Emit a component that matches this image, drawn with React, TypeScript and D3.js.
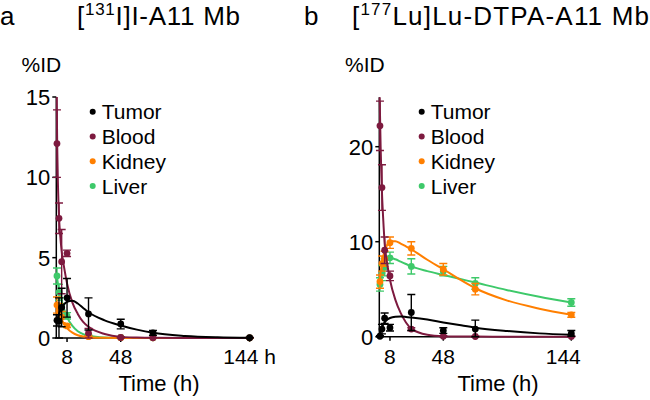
import React from "react";
import * as d3 from "d3";

// ---------- data ----------
const times = [0.5, 2, 4, 8, 24, 48, 72, 144];
const fitTimes = [0, 0.5, 1, 2, 3, 4, 6, 8, 12, 16, 20, 24, 36, 48, 60, 72, 96, 120, 144];
const seriesNames = ["Tumor", "Blood", "Kidney", "Liver"];
const seriesColors = ["#000000", "#7d1a3f", "#ff7f00", "#3ec96a"];

// Panel a: [131I]I-A11 Mb
const aTumor = [1.1, 1.05, 1.9, 2.5, 1.5, 0.87, 0.32, 0.02];
const aTumorSd = [0.35, 1.45, 1.2, 1.2, 1.0, 0.3, 0.15, 0.02];
const aBlood = [12.1, 7.45, 4.75, 5.27, 0.3, 0.03, 0.01, 0.01];
const aBloodSd = [2.1, 0.95, 2.0, 0.2, 0.3, 0.05, 0.03, 0.02];
const aKidney = [2.05, 1.7, 1.3, 0.75, 0.08, 0.02, 0.01, 0.01];
const aKidneySd = [0.5, 0.45, 0.35, 0.1, 0.05, 0.01, 0.01, 0.01];
const aLiver = [3.86, 2.84, 2.0, 1.38, 0.12, 0.03, 0.01, 0.01];
const aLiverSd = [0.5, 0.5, 0.5, 0.2, 0.05, 0.02, 0.01, 0.01];

const aTumorFit = [0.9, 1.05, 1.2, 1.5, 1.72, 1.9, 2.12, 2.25, 2.32, 2.15, 1.87, 1.6, 1.1, 0.78, 0.52, 0.32, 0.13, 0.05, 0.02];
const aBloodFit = [22, 13.5, 10.5, 7.6, 6.3, 5.4, 4.3, 3.4, 2.2, 1.5, 1.0, 0.7, 0.25, 0.07, 0.03, 0.01, 0, 0, 0];
const aKidneyFit = [2.2, 2.05, 1.9, 1.6, 1.36, 1.15, 0.85, 0.62, 0.33, 0.17, 0.09, 0.05, 0.01, 0, 0, 0, 0, 0, 0];
const aLiverFit = [4.0, 3.75, 3.5, 3.0, 2.6, 2.3, 1.75, 1.3, 0.75, 0.42, 0.24, 0.14, 0.03, 0.01, 0, 0, 0, 0, 0];

// Panel b: [177Lu]Lu-DTPA-A11 Mb
const bTumor = [0.05, 0.8, 1.95, 0.95, 2.55, 0.65, 0.8, 0.35];
const bTumorSd = [0.05, 0.5, 0.55, 0.35, 1.9, 0.3, 0.95, 0.3];
const bBlood = [22.2, 15.7, 9.1, 6.4, 0.8, 0.05, 0.02, 0.02];
const bBloodSd = [2.6, 2.4, 1.4, 0.5, 0.15, 0.05, 0.02, 0.02];
const bKidney = [5.8, 7.7, 8.2, 9.9, 9.3, 7.1, 5.0, 2.3];
const bKidneySd = [0.7, 0.8, 0.8, 0.6, 0.7, 0.6, 0.6, 0.25];
const bLiver = [5.5, 6.7, 7.3, 8.3, 7.4, 6.9, 5.6, 3.6];
const bLiverSd = [0.7, 0.8, 0.9, 0.6, 0.8, 0.5, 0.6, 0.4];

const bTumorFit = [0, 0.35, 0.6, 1.0, 1.28, 1.5, 1.8, 1.97, 2.1, 2.12, 2.08, 2.02, 1.8, 1.5, 1.22, 0.95, 0.6, 0.35, 0.2];
const bBloodFit = [28, 23.6, 20, 15.2, 12.2, 9.9, 7.6, 6.0, 3.9, 2.5, 1.5, 0.85, 0.2, 0.05, 0.02, 0.01, 0, 0, 0];
const bKidneyFit = [5.5, 6.2, 6.8, 7.8, 8.5, 9.0, 9.7, 10.05, 10.05, 9.8, 9.5, 9.2, 8.1, 7.1, 6.05, 5.1, 3.8, 2.95, 2.3];
const bLiverFit = [5.5, 6.0, 6.5, 7.2, 7.6, 7.9, 8.2, 8.3, 8.15, 7.9, 7.65, 7.4, 6.9, 6.5, 6.1, 5.7, 4.9, 4.2, 3.6];

const xTickValues = [8, 48, 144];
const aXTickLabels = ["8", "48", "144 h"];
const bXTickLabels = ["8", "48", "144"];
const aYTicks = [0, 5, 10, 15];
const bYTicks = [0, 10, 20];

const FONT = "Arial, 'Liberation Sans', Helvetica, sans-serif";

type Series = { name: string; color: string; values: number[]; sd: number[]; fit: number[] };

const panels = [
  {
    id: "a",
    letter: "a",
    letterX: 0,
    title: { pre: "[", sup: "131", post: "I]I-A11 Mb", x: 77, len: 163 },
    xRange: [56.3, 249.6],
    yRange: [338, 97],
    yMax: 15,
    yTicks: aYTicks,
    xTickLabels: aXTickLabels,
    xLabelDx: [0, 0, 0],
    yLabelX: 21.5,
    xTitleX: 159,
    legendX: 92.7,
    series: [
      { name: seriesNames[0], color: seriesColors[0], values: aTumor, sd: aTumorSd, fit: aTumorFit },
      { name: seriesNames[1], color: seriesColors[1], values: aBlood, sd: aBloodSd, fit: aBloodFit },
      { name: seriesNames[2], color: seriesColors[2], values: aKidney, sd: aKidneySd, fit: aKidneyFit },
      { name: seriesNames[3], color: seriesColors[3], values: aLiver, sd: aLiverSd, fit: aLiverFit },
    ] as Series[],
  },
  {
    id: "b",
    letter: "b",
    letterX: 304,
    title: { pre: "[", sup: "177", post: "Lu]Lu-DTPA-A11 Mb", x: 352, len: 297 },
    xRange: [379.3, 571.3],
    yRange: [336.7, 97.3],
    yMax: 25.2,
    yTicks: bYTicks,
    xTickLabels: bXTickLabels,
    xLabelDx: [0, 0, -8],
    yLabelX: 345,
    xTitleX: 498,
    legendX: 421.7,
    series: [
      { name: seriesNames[0], color: seriesColors[0], values: bTumor, sd: bTumorSd, fit: bTumorFit },
      { name: seriesNames[1], color: seriesColors[1], values: bBlood, sd: bBloodSd, fit: bBloodFit },
      { name: seriesNames[2], color: seriesColors[2], values: bKidney, sd: bKidneySd, fit: bKidneyFit },
      { name: seriesNames[3], color: seriesColors[3], values: bLiver, sd: bLiverSd, fit: bLiverFit },
    ] as Series[],
  },
];

const drawOrder = [3, 2, 1, 0];

function Panel({ p }: { p: (typeof panels)[number] }) {
  const x = d3.scaleLinear().domain([0, 144]).range(p.xRange);
  const y = d3.scaleLinear().domain([0, p.yMax]).range(p.yRange);
  const line = d3
    .line<number>()
    .x((_, i) => x(fitTimes[i]))
    .y((d) => y(d))
    .curve(d3.curveMonotoneX);
  const x0 = p.xRange[0];
  const yBottom = p.yRange[0];
  const yTop = p.yRange[1];
  const clipId = `clip-${p.id}`;
  const cap = 4;

  return (
    <g>
      <defs>
        <clipPath id={clipId}>
          <rect x={x0 - 6} y={yTop} width={p.xRange[1] - x0 + 20} height={yBottom - yTop + 8} />
        </clipPath>
      </defs>

      {/* panel letter and title */}
      <text x={p.letterX} y={25} fontSize={26} fontFamily={FONT} fill="#000">
        {p.letter}
      </text>
      <text
        x={p.title.x}
        y={25}
        fontSize={26}
        fontFamily={FONT}
        fill="#000"
        textLength={p.title.len}
        lengthAdjust="spacing"
      >
        {p.title.pre}
        <tspan fontSize={17} dy={-10}>
          {p.title.sup}
        </tspan>
        <tspan dy={10}>{p.title.post}</tspan>
      </text>

      {/* y label */}
      <text x={p.yLabelX} y={72} fontSize={21} fontFamily={FONT} fill="#000">
        %ID
      </text>

      {/* axes */}
      <line x1={x0} x2={x0} y1={yTop} y2={yBottom} stroke="#000" strokeWidth={1.5} />
      <line x1={x0} x2={p.xRange[1]} y1={yBottom} y2={yBottom} stroke="#000" strokeWidth={1.5} />
      {p.yTicks.map((t) => (
        <g key={`yt${t}`}>
          <line x1={x0 - 4} x2={x0} y1={y(t)} y2={y(t)} stroke="#000" strokeWidth={1.5} />
          <text
            x={x0 - 6}
            y={y(t)}
            dy="0.36em"
            textAnchor="end"
            fontSize={22}
            fontFamily={FONT}
            fill="#000"
          >
            {t}
          </text>
        </g>
      ))}
      {xTickValues.map((t, i) => (
        <g key={`xt${t}`}>
          <line x1={x(t)} x2={x(t)} y1={yBottom} y2={yBottom + 4} stroke="#000" strokeWidth={1.5} />
          <text
            x={x(t) + p.xLabelDx[i]}
            y={364}
            textAnchor="middle"
            fontSize={21}
            fontFamily={FONT}
            fill="#000"
          >
            {p.xTickLabels[i]}
          </text>
        </g>
      ))}
      <text x={p.xTitleX} y={391} textAnchor="middle" fontSize={22} fontFamily={FONT} fill="#000">
        Time (h)
      </text>

      {/* series */}
      {drawOrder.map((si) => {
        const s = p.series[si];
        return (
          <g key={s.name}>
            <path
              d={line(s.fit) || ""}
              fill="none"
              stroke={s.color}
              strokeWidth={2}
              clipPath={`url(#${clipId})`}
            />
            <g clipPath={`url(#${clipId})`}>
              {s.values.map((v, i) => {
                const lo = Math.max(0, v - s.sd[i]);
                const hi = v + s.sd[i];
                const cx = x(times[i]);
                return (
                  <g key={i}>
                    <line x1={cx} x2={cx} y1={y(lo)} y2={y(hi)} stroke={s.color} strokeWidth={1.4} />
                    <line x1={cx - cap} x2={cx + cap} y1={y(hi)} y2={y(hi)} stroke={s.color} strokeWidth={1.4} />
                    <line x1={cx - cap} x2={cx + cap} y1={y(lo)} y2={y(lo)} stroke={s.color} strokeWidth={1.4} />
                    <circle cx={cx} cy={y(v)} r={3.4} fill={s.color} />
                  </g>
                );
              })}
            </g>
          </g>
        );
      })}

      {/* legend */}
      {p.series.map((s, i) => (
        <g key={`lg${s.name}`} transform={`translate(${p.legendX},${111.7 + i * 24.8})`}>
          <circle cx={0} cy={0} r={3} fill={s.color} />
          <text x={9} y={0} dy="0.36em" fontSize={21} fontFamily={FONT} fill="#000">
            {s.name}
          </text>
        </g>
      ))}
    </g>
  );
}

export default function App() {
  return (
    <svg
      width={650}
      height={400}
      viewBox="0 0 650 400"
      style={{ position: "absolute", left: 0, top: 0, background: "#fff" }}
    >
      <rect x={0} y={0} width={650} height={400} fill="#fff" />
      {panels.map((p) => (
        <Panel key={p.id} p={p} />
      ))}
    </svg>
  );
}
